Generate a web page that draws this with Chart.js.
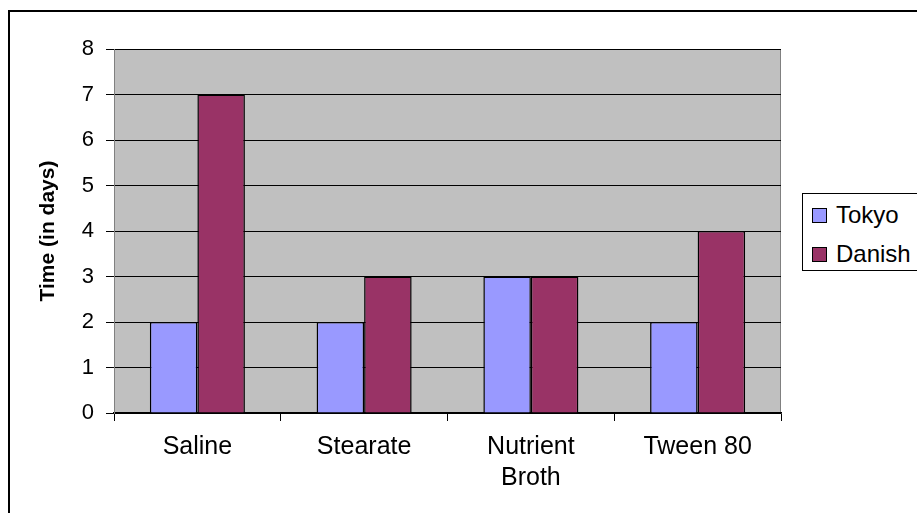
<!DOCTYPE html>
<html>
<head>
<meta charset="utf-8">
<script src="https://cdn.jsdelivr.net/npm/chart.js@4.4.1/dist/chart.umd.min.js"></script>
<style>
  html, body { margin: 0; padding: 0; background: #fff; }
  body { width: 917px; height: 513px; overflow: hidden; position: relative; }
  #chart { position: absolute; left: 0; top: 0; }
  #legend {
    position: absolute; left: 802px; top: 193px; width: 130px; height: 76px;
    border: 1px solid #000; background: #fff;
    font-family: "Liberation Sans", Arial, sans-serif; font-size: 24px; color: #000;
  }
  #legend .item { position: absolute; left: 9px; height: 26px; line-height: 26px; white-space: nowrap; }
  #legend .box { display: inline-block; width: 13px; height: 13px; border: 1px solid #000; vertical-align: middle; margin-right: 9px; position: relative; top: -1px; }
</style>
</head>
<body>
<canvas id="chart" width="917" height="513"></canvas>
<div id="legend"></div>
<script>
const categories = ['Saline', 'Stearate', ['Nutrient', 'Broth'], 'Tween 80'];
const tokyo = [2, 2, 3, 2];
const danish = [7, 3, 3, 4];
const seriesNames = ['Tokyo', 'Danish'];
const seriesColors = ['#9999FF', '#993366'];
const yTicks = [0, 1, 2, 3, 4, 5, 6, 7, 8];

const FONT = '"Liberation Sans", Arial, sans-serif';

// gray plot area + frame around the picture
const plotFrame = {
    id: 'plotFrame',
    beforeDraw(chart) {
        const { ctx, chartArea: a } = chart;
        ctx.save();
        ctx.fillStyle = '#C0C0C0';
        ctx.fillRect(a.left, a.top, a.right - a.left, a.bottom - a.top);
        ctx.strokeStyle = '#808080';
        ctx.lineWidth = 1;
        ctx.strokeRect(a.left + 0.5, a.top + 0.5, a.right - a.left - 1, a.bottom - a.top);
        ctx.restore();
    },
    afterDraw(chart) {
        const ctx = chart.ctx;
        ctx.save();
        ctx.strokeStyle = '#000';
        ctx.lineWidth = 2;
        ctx.beginPath();
        ctx.moveTo(9, 600);
        ctx.lineTo(9, 11);
        ctx.lineTo(1000, 11);
        ctx.stroke();
        ctx.restore();
    }
};

const ctx = document.getElementById('chart').getContext('2d');
const chart = new Chart(ctx, {
    type: 'bar',
    data: {
        labels: categories,
        datasets: [
            { label: seriesNames[0], data: tokyo, backgroundColor: seriesColors[0], borderColor: '#000', borderWidth: 1.5 },
            { label: seriesNames[1], data: danish, backgroundColor: seriesColors[1], borderColor: '#000', borderWidth: 1.5 }
        ]
    },
    options: {
        responsive: false,
        animation: false,
        datasets: { bar: { categoryPercentage: 0.57, barPercentage: 1 } },
        layout: { padding: { top: 49, right: 136, left: 0, bottom: 0 } },
        plugins: { legend: { display: false }, tooltip: { enabled: false } },
        scales: {
            x: {
                afterFit: s => { s.height = 100; },
                grid: { drawOnChartArea: false, drawTicks: true, tickLength: 8, offset: true, color: '#000', lineWidth: 1 },
                border: { color: '#000', width: 1.5 },
                ticks: { color: '#000', padding: 10, maxRotation: 0, autoSkip: false, font: { family: FONT, size: 25, lineHeight: 1.26 } }
            },
            y: {
                min: 0,
                max: 8,
                afterFit: s => { s.width = 114; },
                afterBuildTicks: s => { s.ticks = yTicks.map(v => ({ value: v })); },
                grid: { color: '#000', lineWidth: 1, tickLength: 8 },
                border: { color: '#808080', width: 1 },
                ticks: { color: '#000', padding: 12, font: { family: FONT, size: 22 } },
                title: {
                    display: true,
                    text: 'Time (in days)',
                    color: '#000',
                    padding: { top: 36, bottom: 0 },
                    font: { family: FONT, size: 21, weight: 'bold' }
                }
            }
        }
    },
    plugins: [plotFrame]
});

// legend as html text
const legend = document.getElementById('legend');
seriesNames.forEach((name, i) => {
    const item = document.createElement('div');
    item.className = 'item';
    item.style.top = (i === 0 ? 8 : 47) + 'px';
    item.innerHTML = '<span class="box" style="background:' + seriesColors[i] + '"></span>' + name;
    legend.appendChild(item);
});
</script>
</body>
</html>
